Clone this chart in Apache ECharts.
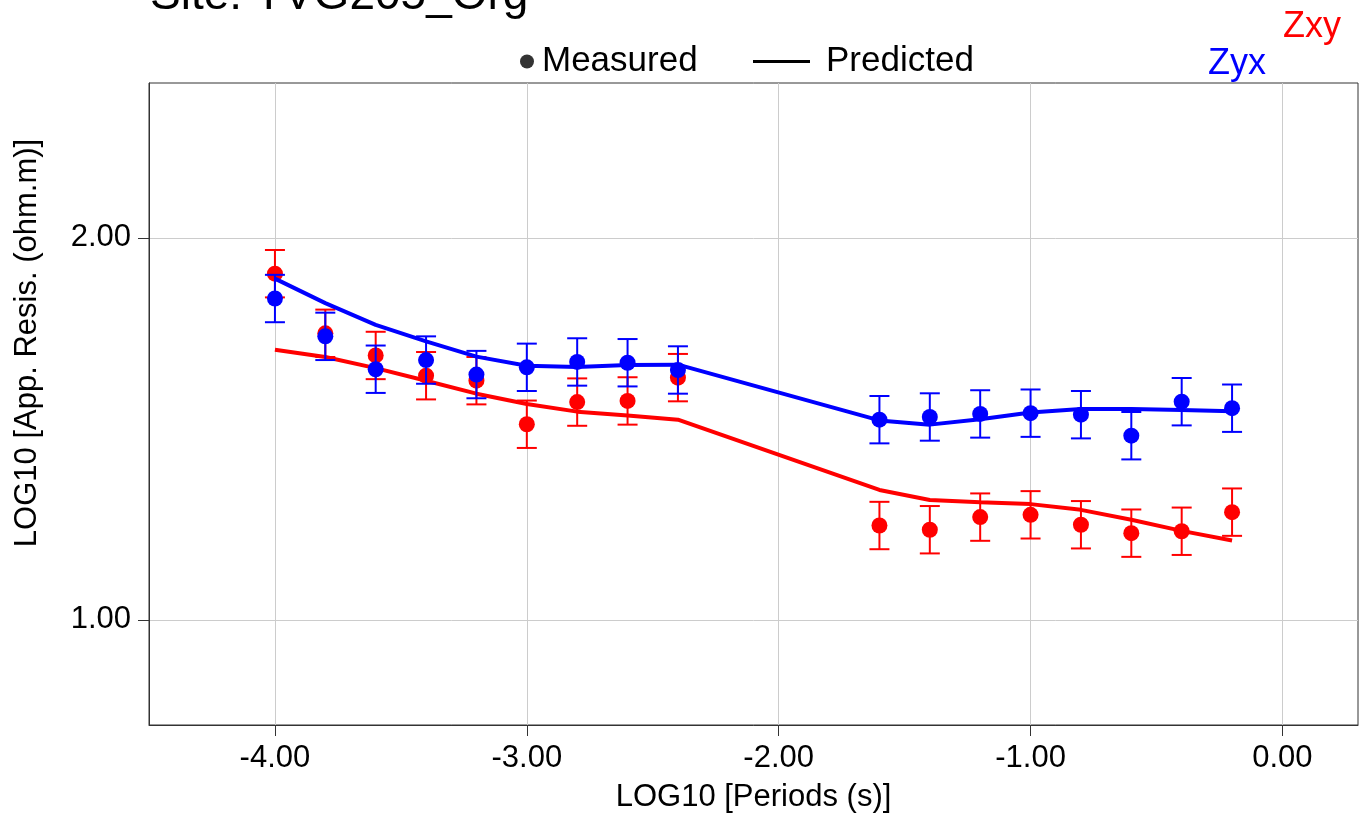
<!DOCTYPE html>
<html>
<head>
<meta charset="utf-8">
<script src="https://cdn.jsdelivr.net/npm/echarts@6/dist/echarts.min.js"></script>
<style>
html,body{margin:0;padding:0;background:#fff;}
#c{width:1368px;height:821px;}
</style>
</head>
<body>
<div id="c"></div>
<script>
// ---- data ----
const periods = [-4.0, -3.8, -3.6, -3.4, -3.2, -3.0, -2.8, -2.6, -2.4, -1.6, -1.4, -1.2, -1.0, -0.8, -0.6, -0.4, -0.2];
const zxyMeasured = [1.906, 1.750, 1.692, 1.639, 1.626, 1.512, 1.570, 1.573, 1.634, 1.247, 1.236, 1.269, 1.275, 1.249, 1.227, 1.232, 1.282];
const zxyError    = [0.062, 0.062, 0.062, 0.062, 0.062, 0.062, 0.062, 0.062, 0.062, 0.062, 0.062, 0.062, 0.062, 0.062, 0.062, 0.062, 0.062];
const zxyPredicted = [1.707, 1.688, 1.659, 1.626, 1.592, 1.565, 1.545, 1.535, 1.524, 1.340, 1.314, 1.308, 1.303, 1.288, 1.262, 1.233, 1.208];
const zyxMeasured = [1.841, 1.742, 1.656, 1.680, 1.642, 1.661, 1.675, 1.673, 1.654, 1.524, 1.531, 1.539, 1.541, 1.537, 1.482, 1.571, 1.554];
const zyxError    = [0.062, 0.062, 0.062, 0.062, 0.062, 0.062, 0.062, 0.062, 0.062, 0.062, 0.062, 0.062, 0.062, 0.062, 0.062, 0.062, 0.062];
const zyxPredicted = [1.893, 1.829, 1.772, 1.729, 1.689, 1.665, 1.662, 1.667, 1.668, 1.522, 1.511, 1.525, 1.543, 1.552, 1.552, 1.549, 1.546];
const xTicks = [-4, -3, -2, -1, 0];
const yTicks = [1, 2];
const titleText = 'Site: TVG205_Org';
const xName = 'LOG10 [Periods (s)]';
const yName = 'LOG10 [App. Resis. (ohm.m)]';

const FONT = 'Liberation Sans, Arial, Helvetica, sans-serif';
const RED = '#ff0000', BLUE = '#0000ff';

function pairs(xs, ys) { return xs.map((x, i) => [x, ys[i]]); }
function triples(xs, ys, es) { return xs.map((x, i) => [x, ys[i], es[i]]); }

function errRender(color) {
  return function (params, api) {
    const x = api.value(0), y = api.value(1), e = api.value(2);
    const top = api.coord([x, y + e]);
    const bot = api.coord([x, y - e]);
    const hw = 10;
    const st = { stroke: color, lineWidth: 2 };
    return {
      type: 'group',
      children: [
        { type: 'line', shape: { x1: top[0], y1: top[1], x2: bot[0], y2: bot[1] }, style: st },
        { type: 'line', shape: { x1: top[0] - hw, y1: top[1], x2: top[0] + hw, y2: top[1] }, style: st },
        { type: 'line', shape: { x1: bot[0] - hw, y1: bot[1], x2: bot[0] + hw, y2: bot[1] }, style: st }
      ]
    };
  };
}

const chart = echarts.init(document.getElementById('c'), null, { renderer: 'canvas' });
const option = {
  animation: false,
  backgroundColor: '#ffffff',
  textStyle: { fontFamily: FONT },
  grid: {
    left: 149, right: 10, top: 83, bottom: 96,
    show: true, borderColor: '#333', borderWidth: 1, backgroundColor: '#fff',
    outerBoundsMode: 'none'
  },
  legend: [
    {
      data: [{ name: 'Measured', icon: 'circle', itemStyle: { color: '#000' } }],
      left: 520, top: 44, padding: 0,
      itemWidth: 14, itemHeight: 14, selectedMode: false,
      textStyle: { fontSize: 35, color: '#000', fontFamily: FONT, padding: [0, 0, 0, 3] }
    },
    {
      data: [{ name: 'Predicted', icon: 'rect', itemStyle: { color: '#000' } }],
      left: 753, top: 44, padding: 0,
      itemWidth: 57, itemHeight: 3, selectedMode: false,
      textStyle: { fontSize: 35, color: '#000', fontFamily: FONT, padding: [0, 0, 0, 11] }
    }
  ],
  xAxis: {
    type: 'value', min: -4.5, max: 0.3,
    name: xName, nameLocation: 'middle', nameGap: 57,
    nameTextStyle: { fontSize: 31, color: '#000', fontFamily: FONT },
    axisLine: { show: true, onZero: false, lineStyle: { color: '#333', width: 1 } },
    axisTick: { show: true, inside: false, length: 11, customValues: xTicks, lineStyle: { color: '#333' } },
    axisLabel: { customValues: xTicks, fontSize: 31, color: '#000', margin: 18, fontFamily: FONT,
                 formatter: v => v.toFixed(2) },
    splitLine: { show: true, lineStyle: { color: '#cccccc', width: 1 } }
  },
  yAxis: {
    type: 'value', min: 0.725, max: 2.405,
    axisLine: { show: true, onZero: false, lineStyle: { color: '#333', width: 1 } },
    axisTick: { show: true, inside: false, length: 11, customValues: yTicks, lineStyle: { color: '#333' } },
    axisLabel: { customValues: yTicks, fontSize: 31, color: '#000', margin: 18, fontFamily: FONT,
                 formatter: v => v.toFixed(2) },
    splitLine: { show: true, lineStyle: { color: '#cccccc', width: 1 } }
  },
  graphic: [
    { type: 'text', left: 150, top: -27, silent: true,
      style: { text: titleText, font: '46px ' + FONT, fill: '#000' } },
    { type: 'text', x: 1283, y: 27, silent: true,
      style: { text: 'Zxy', font: '36px ' + FONT, fill: RED, verticalAlign: 'middle' } },
    { type: 'text', x: 1208, y: 64, silent: true,
      style: { text: 'Zyx', font: '36px ' + FONT, fill: BLUE, verticalAlign: 'middle' } },
    { type: 'text', x: 27, y: 343, rotation: Math.PI / 2, silent: true,
      style: { text: yName, font: '31px ' + FONT, fill: '#000', align: 'center', verticalAlign: 'middle' } }
  ],
  series: [
    { name: 'Measured', type: 'scatter', data: [], itemStyle: { color: '#000' } },
    { name: 'Predicted', type: 'line', data: [], lineStyle: { color: '#000' }, itemStyle: { color: '#000' } },
    { name: 'Zxy error', type: 'custom', renderItem: errRender(RED), data: triples(periods, zxyMeasured, zxyError), z: 2 },
    { name: 'Zxy measured', type: 'scatter', data: pairs(periods, zxyMeasured), symbol: 'circle', symbolSize: 16,
      itemStyle: { color: RED, opacity: 1 }, z: 3 },
    { name: 'Zxy predicted', type: 'line', data: pairs(periods, zxyPredicted), showSymbol: false, symbol: 'none',
      lineStyle: { color: RED, width: 4 }, z: 4 },
    { name: 'Zyx error', type: 'custom', renderItem: errRender(BLUE), data: triples(periods, zyxMeasured, zyxError), z: 5 },
    { name: 'Zyx measured', type: 'scatter', data: pairs(periods, zyxMeasured), symbol: 'circle', symbolSize: 16,
      itemStyle: { color: BLUE, opacity: 1 }, z: 6 },
    { name: 'Zyx predicted', type: 'line', data: pairs(periods, zyxPredicted), showSymbol: false, symbol: 'none',
      lineStyle: { color: BLUE, width: 4 }, z: 7 }
  ]
};
chart.setOption(option);
</script>
</body>
</html>
